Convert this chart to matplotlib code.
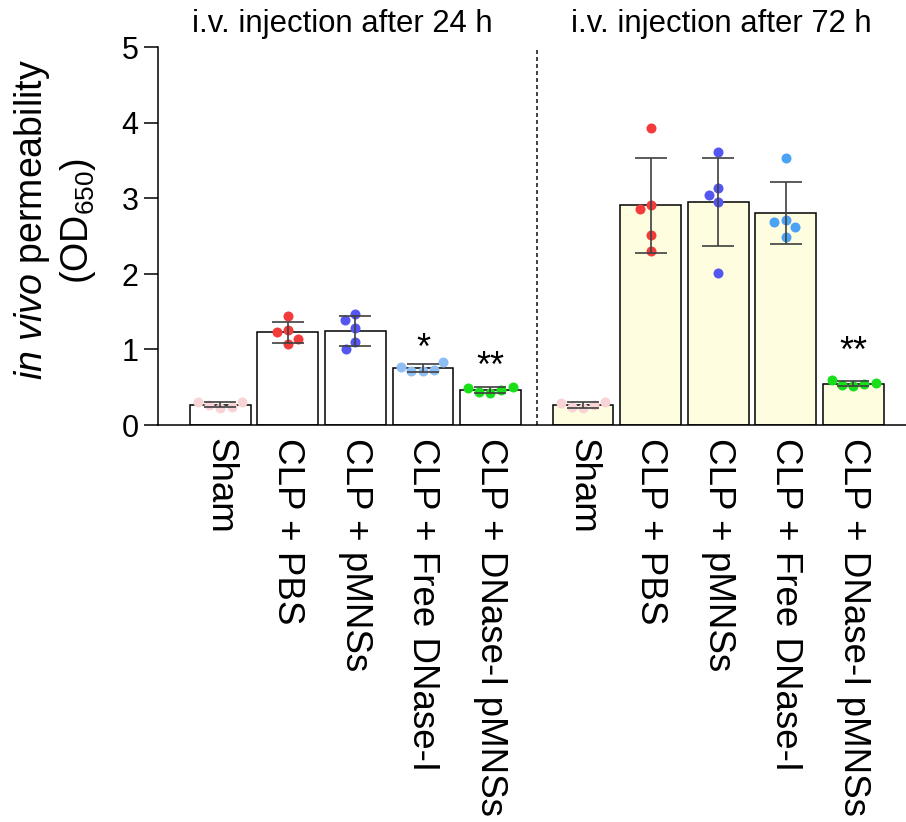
import matplotlib
matplotlib.use("Agg")
import matplotlib.pyplot as plt
import numpy as np

# ── Data (OD650, n = 5 mice per group) ─────────────────────────────────────
GROUPS = ["Sham", "CLP + PBS", "CLP + pMNSs", "CLP + Free DNase-I", "CLP + DNase-I pMNSs"]
TIMEPOINTS = ["i.v. injection after 24 h", "i.v. injection after 72 h"]

OD_24H = [
    [0.23, 0.27, 0.24, 0.31, 0.30],
    [1.26, 1.07, 1.44, 1.23, 1.14],
    [1.466, 1.39, 1.28, 1.095, 1.00],
    [0.71, 0.715, 0.735, 0.77, 0.84],
    [0.42, 0.433, 0.464, 0.494, 0.503],
]
OD_72H = [
    [0.22, 0.24, 0.265, 0.295, 0.30],
    [3.94, 2.914, 2.865, 2.51, 2.31],
    [3.616, 3.135, 3.04, 2.95, 2.01],
    [3.53, 2.71, 2.69, 2.62, 2.49],
    [0.51, 0.53, 0.545, 0.55, 0.60],
]
STARS_24H = ["", "", "", "*", "**"]
STARS_72H = ["", "", "", "", "**"]

# ── Style ───────────────────────────────────────────────────────────────────
FONT = "Liberation Sans"
DOT_COLORS_24H = ["#F9D4D7", "#F43B3B", "#5555F2", "#8FBEF5", "#18E018"]
DOT_COLORS_72H = ["#F9D4D7", "#F43B3B", "#5555F2", "#4CA2F5", "#18E018"]
BAR_FILL = ["#FFFFFF", "#FFFDE0"]
ERR_COLOR = "#404040"
GROUP_GAP = 1.37
BAR_WIDTH = 0.9
DOT_PX = 10
SWARM_PX = 11.5
STAR_PAD = {0: [0, 0, 0, 0.03, 0.14], 1: [0, 0, 0, 0, 0.24]}
TITLE_X = [342 / 906, 721 / 906]

plt.rcParams.update(
    {
        "font.family": FONT,
        "mathtext.fontset": "custom",
        "mathtext.rm": FONT,
        "mathtext.it": f"{FONT}:italic",
        "axes.linewidth": 1.1,
    }
)


def swarm_offsets(values, d_px, sx, sy):
    """Simple beeswarm: smallest horizontal shift that avoids overlap."""
    placed = []
    out = []
    for v in values:
        y = v * sy
        cands = [0.0]
        for px, py in placed:
            dy = abs(y - py)
            if dy < d_px:
                h = np.sqrt(d_px**2 - dy**2)
                cands += [px - h, px + h]
        cands.sort(key=lambda c: (abs(c), c))
        for c in cands:
            if all((c - px) ** 2 + (y - py) ** 2 >= d_px**2 - 1e-6 for px, py in placed):
                break
        placed.append((c, y))
        out.append(c / sx)
    return out


fig = plt.figure(figsize=(9.06, 8.22), dpi=100)
ax = fig.add_axes([158 / 906, 397 / 822, 760 / 906, 377.5 / 822])

n = len(GROUPS)
pos = [np.arange(n), np.arange(n) + n - 1 + GROUP_GAP]
ax.set_xlim(-0.922, -0.922 + 760 / 67.55)
ax.set_ylim(0, 5)

sx = ax.transData.transform((1, 0))[0] - ax.transData.transform((0, 0))[0]
sy = ax.transData.transform((0, 1))[1] - ax.transData.transform((0, 0))[1]

for k, (data, colors, stars) in enumerate(
    [(OD_24H, DOT_COLORS_24H, STARS_24H), (OD_72H, DOT_COLORS_72H, STARS_72H)]
):
    means = [np.mean(v) for v in data]
    sds = [np.std(v, ddof=1) for v in data]
    ax.bar(
        pos[k], means, width=BAR_WIDTH, color=BAR_FILL[k],
        edgecolor="black", linewidth=1.1, zorder=2,
    )
    for i, vals in enumerate(data):
        offs = swarm_offsets(vals, SWARM_PX, sx, sy)
        ax.scatter(
            pos[k][i] + np.array(offs), vals, s=DOT_PX**2 * 0.52,
            color=colors[i], linewidths=0, zorder=3, clip_on=False,
        )
        if stars[i]:
            ax.text(
                pos[k][i], max(vals) + STAR_PAD[k][i], stars[i],
                ha="center", va="baseline", fontsize=26, zorder=5,
            )
    ax.errorbar(
        pos[k], means, yerr=sds, fmt="none", ecolor=ERR_COLOR,
        elinewidth=1.2, capsize=11.5, capthick=1.2, zorder=4,
    )

# divider between time points
mid = (pos[0][-1] + pos[1][0]) / 2
ax.plot([mid, mid], [0, 5], color="#222222", lw=1.2, ls=(0, (2.4, 1.8)), zorder=1)

# group titles
for k, title in enumerate(TIMEPOINTS):
    fig.text(TITLE_X[k], 1 - 32 / 822, title, ha="center", va="baseline", fontsize=22.3)

ax.spines["top"].set_visible(False)
ax.spines["right"].set_visible(False)
ax.set_yticks(range(0, 6))
ax.tick_params(axis="y", length=10, width=1.1, labelsize=22, pad=4)
ax.set_xticks(np.concatenate(pos))
ax.set_xticklabels(GROUPS * 2, rotation=-90, fontsize=26.5, va="top", ha="center")
ax.tick_params(axis="x", length=0, pad=9)

fig.text(32 / 906, 1 - 220 / 822, r"$\mathit{in\ vivo}$ permeability",
         rotation=90, ha="center", va="center", fontsize=27)
fig.text(78 / 906, 1 - 221 / 822, r"(OD$_{650}$)",
         rotation=90, ha="center", va="center", fontsize=27)

fig.savefig("out.png", dpi=100, facecolor="white")
